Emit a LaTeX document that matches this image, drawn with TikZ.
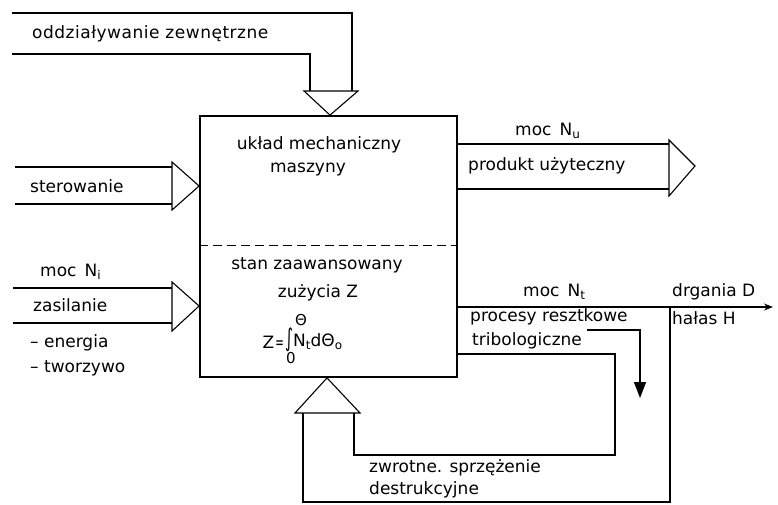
\documentclass[tikz,border=0pt]{standalone}
\usepackage{fontspec}
\setmainfont{DejaVu Sans}
\usetikzlibrary{arrows.meta}
\tikzset{
  ln/.style={line width=1.1pt, line join=miter},
  boxln/.style={line width=1.8pt},
  lbl/.style={inner sep=0pt, anchor=west, font=\fontsize{17}{19}\selectfont},
  clbl/.style={inner sep=0pt, font=\fontsize{17}{19}\selectfont},
  slbl/.style={inner sep=0pt, font=\fontsize{15}{16}\selectfont},
}
\newcommand{\sbs}[1]{\raisebox{-3pt}{\fontsize{12}{12}\selectfont #1}}
\begin{document}
\begin{tikzpicture}[x=1pt,y=-1pt]
\useasboundingbox (0,0) rectangle (778,504);
% main box
\node[draw, boxln, minimum width=257pt, minimum height=261pt, inner sep=0pt] (box) at (328.5,246.5) {};
\draw[line width=1pt, dash pattern=on 9pt off 5pt] (box.west |- 0,245) -- (box.east |- 0,245);
\node[clbl] (t1) at (319,145) {układ mechaniczny};
\node[clbl] (t2) at (308,170) {maszyny};
\node[clbl] (t3) at (317,265) {stan zaawansowany};
\node[clbl] (t4) at (318,293) {zużycia Z};
% formula
\node[clbl, anchor=east] (f1) at (284,342) {Z\kern1pt\scalebox{0.6}[1]{=}};
\node[inner sep=0pt, font=\fontsize{17}{19}\selectfont] (fint) at (289,340) {\scalebox{0.9}[1.45]{∫}};
\node[lbl] (f2) at (293,342) {N\sbs{t}dΘ\sbs{o}};
\node[slbl] (fup) at (301,320) {Θ};
\node[slbl] (flo) at (291,358) {0};

% top arrow: oddzialywanie zewnetrzne
\coordinate (a1) at (12,13);
\coordinate (a2) at (12,54);
\draw[ln] (a1) -- (352,13) -- (352,91);
\draw[ln] (a2) -- (310,54) -- (310,91);
\draw[ln] (304,91) -- (358,91) -- (box.north -| 330,0) -- cycle;
\node[lbl] (oz) at (32,34) {\addfontfeature{LetterSpace=3}oddziaływanie zewnętrzne};

% sterowanie
\coordinate (s1) at (15,167);
\coordinate (s2) at (15,204);
\draw[ln] (s1) -- (172,167);
\draw[ln] (s2) -- (172,204);
\draw[ln] (172,162) -- (box.west |- 0,186) -- (172,210) -- cycle;
\node[lbl] (st) at (30,186) {sterowanie};

% zasilanie
\coordinate (z1) at (13,288);
\coordinate (z2) at (13,323);
\draw[ln] (z1) -- (172,288);
\draw[ln] (z2) -- (172,323);
\draw[ln] (172,282) -- (box.west |- 0,306) -- (172,331) -- cycle;
\node[lbl] (ni) at (40,272) {moc\, N\sbs{i}};
\node[lbl] (za) at (33,305) {zasilanie};
\node[lbl] (en) at (30,343) {– energia};
\node[lbl] (tw) at (30,368) {– tworzywo};

% output Nu
\draw[ln] (box.east |- 0,144) -- (669,144);
\draw[ln] (box.east |- 0,189) -- (669,189);
\draw[ln] (669,140) -- (695,166) -- (669,196) -- cycle;
\node[lbl] (nu) at (515,131) {moc\, N\sbs{u}};
\node[lbl] (pu) at (468,166) {produkt użyteczny};

% Nt output
\coordinate (nte) at (773,307);
\draw[ln, -{Stealth[length=9pt,width=7pt]}] (box.east |- 0,307) -- (nte);
\node[lbl] (nt) at (523,292) {moc\, N\sbs{t}};
\node[lbl] (dr) at (672,292) {drgania D};
\node[lbl] (ha) at (672,318) {hałas H};
\node[lbl] (pr) at (470,317) {procesy resztkowe};
\node[lbl] (tr) at (472,341) {tribologiczne};
\draw[ln, -{Triangle[length=16pt,width=12pt]}] (587,330) -- (640,330) -- (640,398);

% feedback
\draw[ln] (295,413) -- (360,413) -- (box.south -| 327,0) -- cycle;
\draw[ln] (303,413) -- (303,502) -- (670,502) -- (670,307);
\draw[ln] (354,413) -- (354,455) -- (615,455) -- (615,354) -- (box.east |- 0,354);
\node[lbl] (zw) at (369,468) {zwrotne. sprzężenie};
\node[lbl] (de) at (369,490) {destrukcyjne};
\end{tikzpicture}
\end{document}
